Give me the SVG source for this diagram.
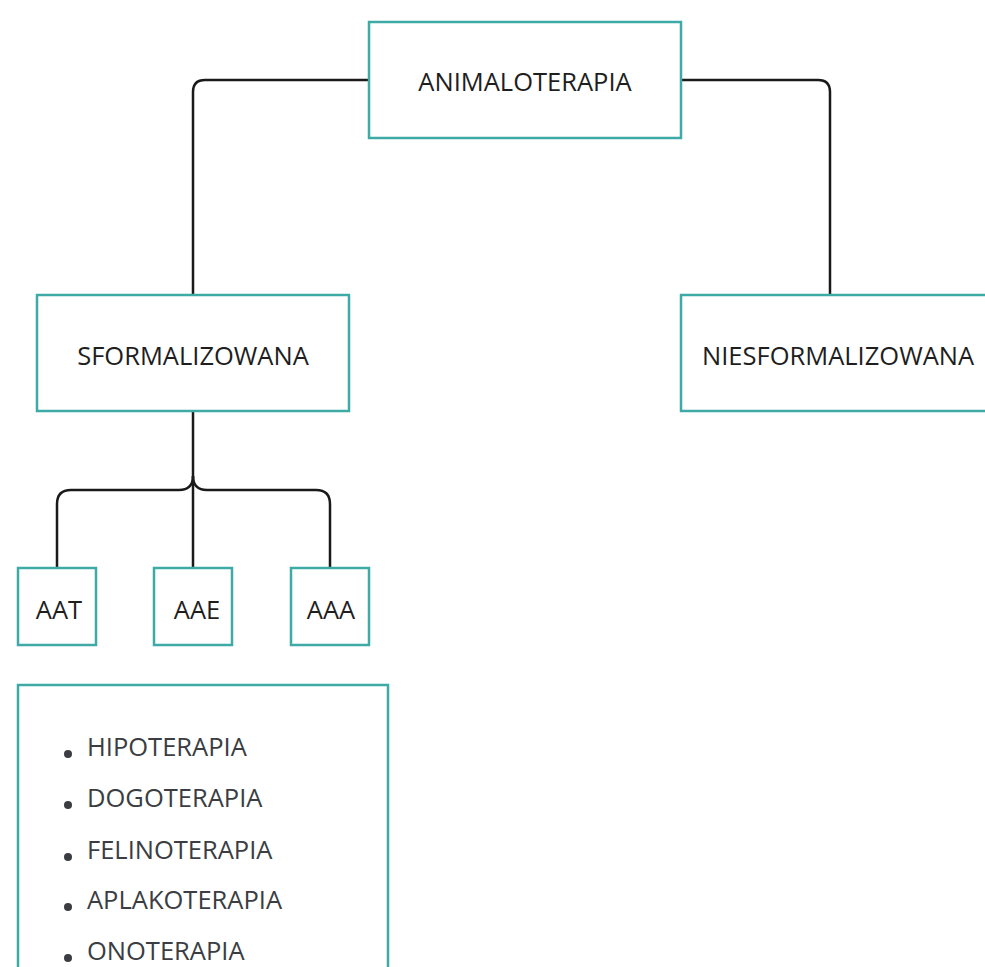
<svg xmlns="http://www.w3.org/2000/svg" width="985" height="967" viewBox="0 0 985 967">
<style>
.box{fill:#ffffff;stroke:#3eaaa6;stroke-width:2.5}
.lbl{font-family:"Open Sans","Liberation Sans",sans-serif;font-size:25.5px;font-weight:500;fill:#1e1e1e;text-anchor:middle;dominant-baseline:central}
.li{font-family:"Open Sans","Liberation Sans",sans-serif;font-size:25.5px;font-weight:500;fill:#3a3d42}
.conn{fill:none;stroke:#1a1a1a;stroke-width:2.5}
</style>
<rect width="985" height="967" fill="#ffffff"/>
<g id="connectors">
<path class="conn" d="M369,80 H205 Q193,80 193,92 V295"/>
<path class="conn" d="M681,80 H818 Q830,80 830,92 V295"/>
<path class="conn" d="M193,411 V568"/>
<path class="conn" d="M193,476 Q193,490 179,490 H71 Q57,490 57,504 V568"/>
<path class="conn" d="M193,476 Q193,490 207,490 H316 Q330,490 330,504 V568"/>
</g>
<g id="animaloterapia">
<rect class="box" x="369" y="22" width="312" height="116"/>
<text class="lbl" x="525" y="81">ANIMALOTERAPIA</text>
</g>
<g id="sformalizowana">
<rect class="box" x="37" y="295" width="312" height="116"/>
<text class="lbl" x="193" y="355">SFORMALIZOWANA</text>
</g>
<g id="niesformalizowana">
<rect class="box" x="681" y="295" width="312" height="116"/>
<text class="lbl" x="702" y="355" style="text-anchor:start">NIESFORMALIZOWANA</text>
</g>
<g id="aat">
<rect class="box" x="18" y="568" width="78" height="77"/>
<text class="lbl" x="59" y="609">AAT</text>
</g>
<g id="aae">
<rect class="box" x="154" y="568" width="78" height="77"/>
<text class="lbl" x="197" y="609">AAE</text>
</g>
<g id="aaa">
<rect class="box" x="291" y="568" width="78" height="77"/>
<text class="lbl" x="331" y="609">AAA</text>
</g>
<g id="list">
<rect class="box" x="18" y="685" width="370" height="300"/>
<g fill="#3a3d42">
<circle cx="68" cy="754" r="4"/>
<circle cx="68" cy="805" r="4"/>
<circle cx="68" cy="857" r="4"/>
<circle cx="68" cy="907" r="4"/>
<circle cx="68" cy="958" r="4"/>
</g>
<text class="li" x="87" y="756">HIPOTERAPIA</text>
<text class="li" x="87" y="807">DOGOTERAPIA</text>
<text class="li" x="87" y="859">FELINOTERAPIA</text>
<text class="li" x="87" y="909">APLAKOTERAPIA</text>
<text class="li" x="87" y="960">ONOTERAPIA</text>
</g>
</svg>
